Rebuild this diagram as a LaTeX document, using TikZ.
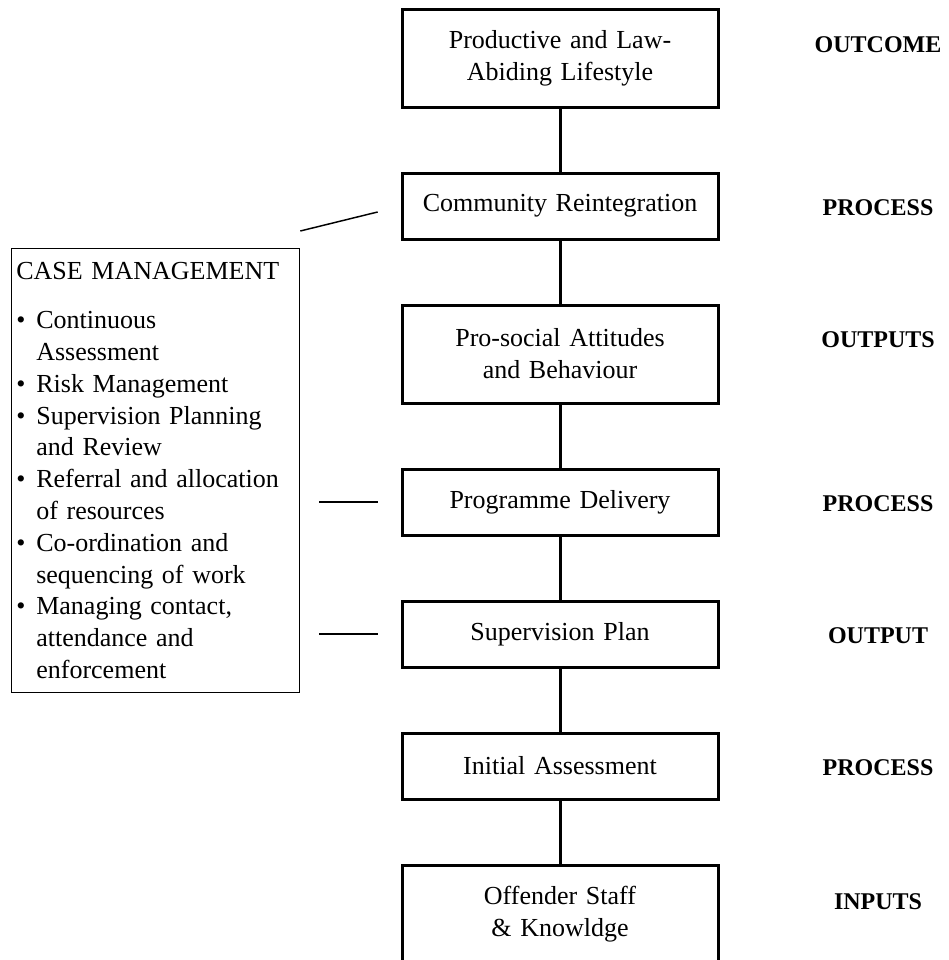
\documentclass[tikz,border=0pt]{standalone}
\usepackage{fontspec}
\setmainfont{Liberation Serif}
\usetikzlibrary{positioning,calc}

\newcommand{\cmitem}[1]{\par\noindent\makebox[15pt][l]{\textbullet}#1}
\newcommand{\cmmore}[1]{\par\noindent\hspace*{15pt}#1}

\begin{document}
\begin{tikzpicture}[
		node distance=49.5pt,
		every node/.style={
				font=\fontsize{19.5pt}{23.85pt}\selectfont,
				align=center
			},
		stage/.style={draw, line width=2.25pt, outer sep=0pt, minimum width=237pt, minimum height=49.5pt, text width=230pt},
		tallstage/.style={stage, minimum height=73.5pt},
		tag/.style={font=\fontsize{18pt}{22pt}\selectfont\bfseries},
		link/.style={line width=2.25pt},
		side/.style={line width=1.1pt}
	]
	\useasboundingbox (0,0) rectangle (711.75pt,-720pt);

	\node[tallstage] (outcome) at (420pt,-43.5pt) {Productive and Law-\\Abiding Lifestyle};
	\node[stage, below=of outcome] (reintegration) {Community Reintegration};
	\node[tallstage, below=of reintegration] (attitudes) {Pro-social Attitudes\\and Behaviour};
	\node[stage, below=of attitudes] (delivery) {Programme Delivery};
	\node[stage, below=of delivery] (plan) {Supervision Plan};
	\node[stage, below=of plan] (assessment) {Initial Assessment};
	\node[tallstage, below=of assessment] (inputs) {Offender Staff\\\& Knowldge};

	% labels on the right
	\node[tag] (toutcome) at ($(outcome.center)+(238.5pt,9.75pt)$) {OUTCOME};
	\node[tag] (treintegration) at ($(reintegration.center)+(238.5pt,-1pt)$) {PROCESS};
	\node[tag] (tattitudes) at ($(attitudes.center)+(238.5pt,10.5pt)$) {OUTPUTS};
	\node[tag] (tdelivery) at ($(delivery.center)+(238.5pt,-1pt)$) {PROCESS};
	\node[tag] (tplan) at ($(plan.center)+(238.5pt,-1pt)$) {OUTPUT};
	\node[tag] (tassessment) at ($(assessment.center)+(238.5pt,-1pt)$) {PROCESS};
	\node[tag] (tinputs) at ($(inputs.center)+(238.5pt,9pt)$) {INPUTS};

	% case management box
	\node[draw, line width=1pt, anchor=north west, text width=208.7pt, inner xsep=3.75pt, inner ysep=0pt, minimum height=333pt, align=left] (casemgmt) at (8pt,-186pt) {%
		CASE MANAGEMENT\par\vspace{12.9pt}%
		\cmitem{Continuous}\cmmore{Assessment}%
		\cmitem{Risk Management}%
		\cmitem{Supervision Planning}\cmmore{and Review}%
		\cmitem{Referral and allocation}\cmmore{of resources}%
		\cmitem{Co-ordination and}\cmmore{sequencing of work}%
		\cmitem{Managing contact,}\cmmore{attendance and}\cmmore{enforcement}};

	\draw[link] (outcome) -- (reintegration);
	\draw[link] (reintegration) -- (attitudes);
	\draw[link] (attitudes) -- (delivery);
	\draw[link] (delivery) -- (plan);
	\draw[link] (plan) -- (assessment);
	\draw[link] (assessment) -- (inputs);

	\coordinate (cmtop) at ([yshift=12.75pt]casemgmt.north east);
	\draw[side, shorten >=18.75pt] (cmtop) -- (reintegration.west);
	\draw[side, shorten <=14.25pt, shorten >=18pt] (casemgmt.east |- delivery) -- (delivery.west);
	\draw[side, shorten <=14.25pt, shorten >=18pt] (casemgmt.east |- plan) -- (plan.west);
\end{tikzpicture}
\end{document}
